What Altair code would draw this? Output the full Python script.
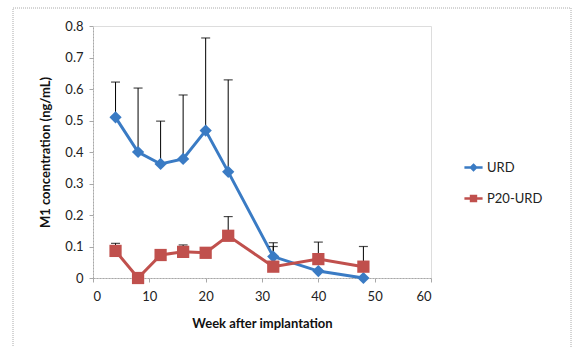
import altair as alt
import pandas as pd

weeks = [4, 8, 12, 16, 20, 24, 32, 40, 48]
urd = [0.51, 0.40, 0.362, 0.378, 0.468, 0.337, 0.068, 0.022, 0.0]
urd_upper = [0.622, 0.603, 0.498, 0.581, 0.762, 0.629, 0.112, None, None]
p20 = [0.086, 0.0, 0.073, 0.083, 0.08, 0.134, 0.036, 0.06, 0.036]
p20_upper = [0.11, None, None, 0.105, None, 0.195, 0.10, 0.114, 0.10]
series = ["URD", "P20-URD"]
colors = ["#3A7BC4", "#C0504D"]
x_ticks = [0, 10, 20, 30, 40, 50, 60]
y_ticks = [0, 0.1, 0.2, 0.3, 0.4, 0.5, 0.6, 0.7, 0.8]

rows = []
for s, vals, ups in [("URD", urd, urd_upper), ("P20-URD", p20, p20_upper)]:
    for w, v, u in zip(weeks, vals, ups):
        rows.append({"week": w, "value": v, "upper": u, "series": s})
df = pd.DataFrame(rows)
err = df.dropna(subset=["upper"])

FONT = "Lato"

# legend symbols: line segment + marker (nested outlines so the stroke fills the marker)
path_urd = ("M-1,0L1,0 M0,-0.28L0.28,0L0,0.28L-0.28,0Z "
            "M0,-0.15L0.15,0L0,0.15L-0.15,0Z M0,-0.05L0.05,0L0,0.05L-0.05,0Z")
path_p20 = ("M-1,0L1,0 M-0.27,-0.27L0.27,-0.27L0.27,0.27L-0.27,0.27Z "
            "M-0.15,-0.15L0.15,-0.15L0.15,0.15L-0.15,0.15Z M-0.05,-0.05L0.05,-0.05L0.05,0.05L-0.05,0.05Z")

axis_common = dict(grid=False, domainColor="#A8A8A8", domainDash=[2, 1], tickColor="#A8A8A8",
                   tickSize=4, labelFontSize=13, labelColor="#222",
                   titleFontSize=13, titleFontWeight="bold", titleColor="#111",
                   labelFont=FONT, titleFont=FONT, labelOverlap=False)
x_scale = alt.Scale(domain=[0, 60], nice=False)
y_scale = alt.Scale(domain=[0, 0.8], nice=False)
x_axis = alt.Axis(values=x_ticks, title="Week after implantation", labelPadding=8,
                  titlePadding=14, format="d", **axis_common)
y_axis = alt.Axis(values=y_ticks, title="M1 concentration (ng/mL)", labelPadding=6,
                  titlePadding=12, format="~g", **axis_common)

def X():
    return alt.X("week:Q", scale=x_scale, axis=x_axis)

def Y(field):
    return alt.Y(field, scale=y_scale, axis=y_axis)

color_scale = alt.Scale(domain=series, range=colors)

leg = alt.Legend(
    title=None, orient="none", legendX=370, legendY=131, padding=0,
    symbolSize=330, symbolStrokeWidth=2.5, rowPadding=12, labelOffset=3,
    labelFontSize=13, labelFont=FONT, labelColor="#222",
    symbolType={"expr": f"datum.value === 'URD' ? '{path_urd}' : '{path_p20}'"},
)

lines = alt.Chart(df).mark_line(strokeWidth=3).encode(
    x=X(), y=Y("value:Q"),
    color=alt.Color("series:N", scale=color_scale, legend=leg),
    detail="series:N")

frame = alt.Chart(pd.DataFrame({"a": [0]})).mark_rect(
    fill=None, stroke="#AAAAAA", strokeWidth=1, strokeDash=[1, 1]).encode(
    x=alt.value(-80), x2=alt.value(478), y=alt.value(-18), y2=alt.value(340))

rules = alt.Chart(err).mark_rule(color="black", strokeWidth=1).encode(
    x=X(), y=Y("value:Q"), y2="upper:Q")
caps = alt.Chart(err).mark_tick(color="black", thickness=1.2, size=9, orient="horizontal").encode(
    x=X(), y=Y("upper:Q"))

pts_urd = alt.Chart(df[df.series == "URD"]).mark_point(
    filled=True, opacity=1, size=150, shape="diamond").encode(
    x=X(), y=Y("value:Q"),
    color=alt.Color("series:N", scale=color_scale, legend=None))
pts_p20 = alt.Chart(df[df.series == "P20-URD"]).mark_point(
    filled=True, opacity=1, size=150, shape="square").encode(
    x=X(), y=Y("value:Q"),
    color=alt.Color("series:N", scale=color_scale, legend=None))

chart = alt.layer(lines, frame, rules, caps, pts_urd, pts_p20).properties(
    width=338, height=252,
    autosize=alt.AutoSizeParams(type="none"),
    padding={"left": 93, "top": 26, "right": 143, "bottom": 69},
).configure_view(stroke=None).configure(background="white")

chart.save("out.html", embed_options={"renderer": "svg", "actions": False})
